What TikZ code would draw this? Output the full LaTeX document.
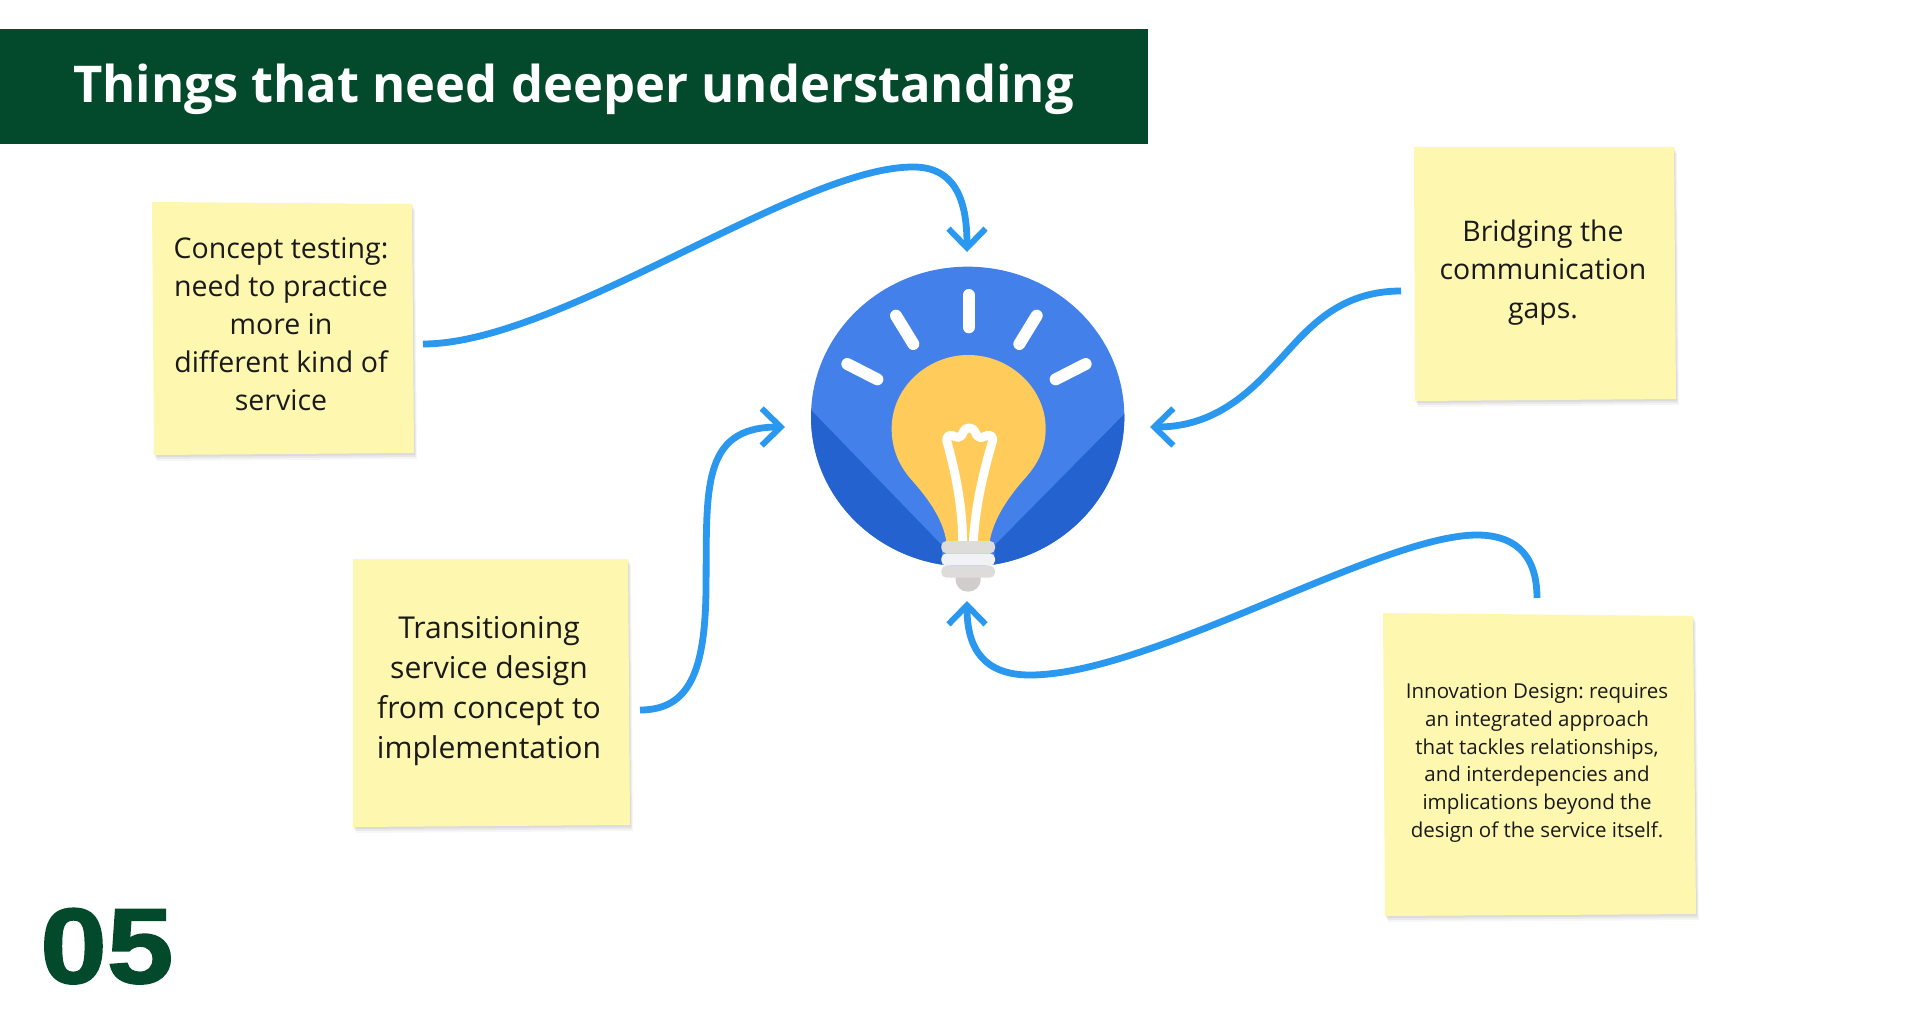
\documentclass[tikz,border=0pt]{standalone}
\usepackage{fontspec}
\setmainfont{Open Sans}
\newfontfamily\numfont[FakeStretch=1.12,FakeBold=1.6]{Liberation Sans Bold}
\usetikzlibrary{arrows.meta}
\definecolor{bannergreen}{HTML}{024A2B}
\definecolor{stickyyellow}{HTML}{FEF7AF}
\definecolor{arrowblue}{HTML}{2A98EF}
\definecolor{discblue}{HTML}{4480EA}
\definecolor{discdark}{HTML}{2462CF}
\definecolor{bulbyellow}{HTML}{FFCC5C}
\definecolor{capgrey}{HTML}{DEDBDB}
\definecolor{lightcap}{HTML}{F2F2F2}
\definecolor{tipgrey}{HTML}{D1CDCD}
\definecolor{inktext}{HTML}{1A1A1A}
\tikzset{
  notetext/.style={inner sep=0pt,align=center,text=inktext},
  flow/.style={draw=arrowblue,line width=6.8pt,-{Straight Barb[length=19pt,width=37pt,line width=6pt]}},
  ray/.style={draw=white,line width=12pt,line cap=round},
}
\newcommand{\stickypoly}[4]{%
  \fill[black,opacity=0.035,shift={(3,6)}] #1 -- #2 -- #3 -- #4 -- cycle;
  \fill[black,opacity=0.05,shift={(2,4)}] #1 -- #2 -- #3 -- #4 -- cycle;
  \fill[black,opacity=0.06,shift={(1,2)}] #1 -- #2 -- #3 -- #4 -- cycle;
  \fill[stickyyellow] #1 -- #2 -- #3 -- #4 -- cycle;
}
\begin{document}
\frenchspacing
\begin{tikzpicture}[x=1pt,y=-1pt]
\useasboundingbox (0,0) rectangle (1920,1028);
\fill[white] (0,0) rectangle (1920,1028);
% banner
\fill[bannergreen] (0,29) rectangle (1148,144);
\node[anchor=base,inner sep=0pt,text=white,font={\fontsize{50.7}{60}\selectfont\bfseries}] (title) at (573.5,102) {Things that need deeper understanding};
\node[anchor=base west,inner sep=0pt,text=bannergreen,font={\fontsize{107}{110}\selectfont\numfont}] (pagenum) at (40,983) {05};
% stickies
\stickypoly{(152,202)}{(412,204)}{(414,453)}{(154,455)}
\stickypoly{(1414,147)}{(1674,147)}{(1676,399)}{(1415,401)}
\stickypoly{(353,559)}{(628,559)}{(630,825)}{(353,827)}
\stickypoly{(1383,613)}{(1693,616)}{(1696,914)}{(1385,916)}
% note texts
\node[notetext,font={\fontsize{28.5}{38}\selectfont}] (concept) at (281,324.5) {Concept testing:\\need to practice\\more in\\different kind of\\service};
\node[notetext,font={\fontsize{28.4}{38.5}\selectfont}] (bridging) at (1543,272.5) {Bridging the\\communication\\gaps.};
\node[notetext,font={\fontsize{30.1}{40}\selectfont}] (transition) at (489,691.5) {Transitioning\\service design\\from concept to\\implementation};
\node[notetext,font={\fontsize{20.5}{27.7}\selectfont}] (innovation) at (1537,763) {Innovation Design: requires\\an integrated approach\\that tackles relationships,\\and interdepencies and\\implications beyond the\\design of the service itself.};
% bulb (coordinates are those of the 3x crop)
\begin{scope}[xshift=780pt,yshift=-240pt,x=0.33333pt,y=-0.33333pt]
  \fill[discblue] (563,530) ellipse [x radius=470,y radius=450];
  \begin{scope}
    \clip (563,530) ellipse [x radius=470,y radius=450];
    \fill[discdark] (60,490) -- (93,510) -- (485,915) -- (487,1010) -- (60,1010) -- cycle;
    \fill[discdark] (1060,500) -- (1033,522) -- (645,915) -- (640,1010) -- (1060,1010) -- cycle;
  \end{scope}
  \draw[ray] (566,165) -- (566,262);
  \draw[ray] (348,227) -- (400,312);
  \draw[ray] (770,227) -- (718,312);
  \draw[ray] (202,372) -- (292,418);
  \draw[ray] (917,372) -- (827,418);
  \fill[bulbyellow] (500,910) .. controls (490,830) and (430,760) .. (395,720)
     .. controls (355,675) and (335,625) .. (335,565)
     .. controls (335,445) and (440,345) .. (565,345)
     .. controls (690,345) and (797,445) .. (797,565)
     .. controls (797,625) and (775,670) .. (735,715)
     .. controls (695,760) and (640,830) .. (628,910) -- cycle;
  \draw[white,line width=8.8pt,line join=round,line cap=butt]
     (548,908) .. controls (548,800) and (525,690) .. (500,602)
     .. controls (497,585) and (515,582) .. (525,590)
     .. controls (540,597) and (545,587) .. (550,575)
     .. controls (555,560) and (580,560) .. (585,575)
     .. controls (590,590) and (600,597) .. (612,590)
     .. controls (625,582) and (642,585) .. (638,602)
     .. controls (612,690) and (585,800) .. (580,908);
  \fill[tipgrey] (527,1005) -- (602,1005) -- (602,1018) .. controls (602,1040) and (585,1055) .. (564,1055) .. controls (543,1055) and (527,1040) .. (527,1018) -- cycle;
  \fill[capgrey,rounded corners=5pt] (484,903) rectangle (645,940);
  \fill[capgrey,rounded corners=5pt] (484,977) rectangle (645,1013);
  \fill[lightcap,rounded corners=5pt] (484,940) rectangle (645,977);
\end{scope}
% connector ends
\coordinate (c1s) at (423,344);
\coordinate (c1e) at (967,252);
\coordinate (c2s) at (640,710);
\coordinate (c2e) at (785,427);
\coordinate (c3s) at (1401,291);
\coordinate (c3e) at (1150,427);
\coordinate (c4s) at (1537,598);
\coordinate (c4e) at (967,601);
\draw[flow] (c1s) .. controls (560,344) and (800,165) .. (915,167) .. controls (958,168) and (967,205) .. (c1e);
\draw[flow] (c2s) .. controls (690,710) and (705,670) .. (706,590) .. controls (707,490) and (700,427) .. (c2e);
\draw[flow] (c3s) .. controls (1330,291) and (1300,340) .. (1270,370) .. controls (1235,408) and (1200,427) .. (c3e);
\draw[flow] (c4s) .. controls (1537,550) and (1510,535) .. (1477,535) .. controls (1380,535) and (1150,675) .. (1030,675) .. controls (985,675) and (967,650) .. (c4e);
\end{tikzpicture}
\end{document}
